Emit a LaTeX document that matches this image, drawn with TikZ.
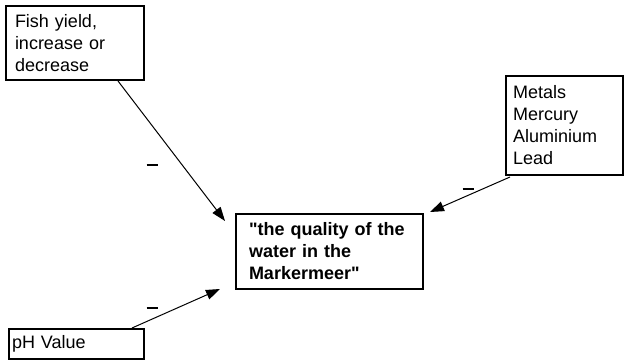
\documentclass[tikz,border=0pt]{standalone}
\usepackage{fontspec}
\setmainfont{Liberation Sans}[Ligatures=TeXOff]
\usetikzlibrary{arrows.meta,calc}
\begin{document}
\begin{tikzpicture}[x=1bp,y=-1bp,
  box/.style={draw, line width=2bp, anchor=north west, align=left, inner xsep=9bp, inner ysep=0pt,
    font=\fontsize{18bp}{22bp}\selectfont},
  conn/.style={line width=1bp, -{Triangle[length=14bp,width=10bp]}},
  sign/.style={inner sep=0pt, anchor=center}]
\useasboundingbox (0,0) rectangle (627,362);
\node[box, text width=120bp, minimum height=74bp] (fish) at (5,5) {Fish yield,\\increase or\\decrease};
\node[box, text width=103bp, minimum height=99bp, inner xsep=7bp] (metals) at (505,75) {Metals\\Mercury\\Aluminium\\Lead};
\node[box, text width=161bp, minimum height=75bp, inner xsep=13bp, font=\fontsize{18bp}{22bp}\selectfont\bfseries] (q) at (235,213) {"the quality of the\\water in the\\Markermeer"};
\node[box, text width=129bp, minimum height=30bp, inner xsep=3bp] (ph) at (8,328) {pH Value};
\coordinate (s1) at ($(fish.south west)+(113,0)$);
\coordinate (t1) at ($(q.north west)+(-10,8)$);
\coordinate (s2) at ($(metals.south west)+(5,1)$);
\coordinate (t2) at ($(q.north east)+(6,-1)$);
\coordinate (s3) at ($(ph.north west)+(124,0)$);
\coordinate (t3) at ($(q.south west)+(-15,-1)$);
\draw[conn] (s1) -- (t1);
\draw[conn] (s2) -- (t2);
\draw[conn] (s3) -- (t3);
\node[sign] (m1) at (152,165) {\rule{11bp}{1.8bp}};
\node[sign] (m2) at (468,189) {\rule{11bp}{1.8bp}};
\node[sign] (m3) at (152,308) {\rule{11bp}{1.8bp}};
\end{tikzpicture}
\end{document}
